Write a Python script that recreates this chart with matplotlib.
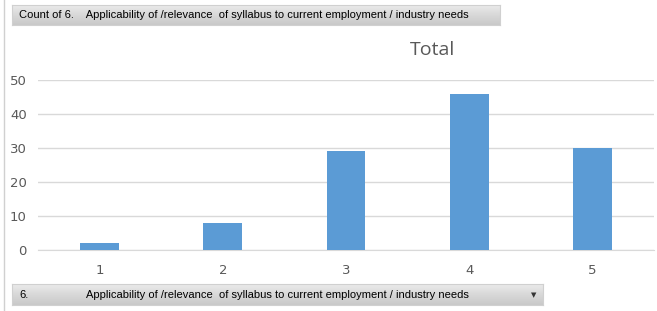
import numpy as np
import matplotlib.pyplot as plt
from matplotlib.lines import Line2D
from matplotlib.colors import LinearSegmentedColormap

categories = ["1", "2", "3", "4", "5"]
counts = [2, 8, 29, 46, 30]
header_text = "Count of 6.    Applicability of /relevance  of syllabus to current employment / industry needs"
field_label = "6."
field_text = "Applicability of /relevance  of syllabus to current employment / industry needs"

W, H = 657, 311
fig = plt.figure(figsize=(W / 100, H / 100), dpi=100)
fig.patch.set_facecolor("white")

# plot area (pixel coordinates converted to figure fractions)
left, right, top, bottom = 38, 654, 80, 250
ax = fig.add_axes([left / W, 1 - bottom / H, (right - left) / W, (bottom - top) / H])
x = range(len(categories))
ax.bar(x, counts, width=0.315, color="#5B9BD5", zorder=3)
ax.set_xlim(-0.5, len(categories) - 0.5)
ax.set_ylim(0, 50)
ax.set_yticks(range(0, 51, 10))
ax.set_xticks(list(x))
ax.set_xticklabels(categories)
ax.yaxis.grid(True, color="#D9D9D9", linewidth=1)
for s in ["top", "right", "left"]:
    ax.spines[s].set_visible(False)
ax.spines["bottom"].set_color("#D9D9D9")
ax.tick_params(length=0, labelsize=9.5, labelcolor="#595959", pad=10)
ax.tick_params(axis="y", pad=8)
ax.set_facecolor("white")

fig.text(432 / W, 1 - 50 / H, "Total", fontsize=14, color="#595959",
         ha="center", va="center", family="Open Sans")

# left border of the pivot sheet
fig.add_artist(Line2D([4 / W, 4 / W], [0, 1], color="#D0D0D0", linewidth=1))

# field header buttons with a light vertical gradient
grey_cmap = LinearSegmentedColormap.from_list("btn", ["#C9C9C9", "#D8D8D8", "#EBEBEB"])
grad = np.linspace(0, 1, 32).reshape(-1, 1)

def button(x0, y0, x1, y1):
    bax = fig.add_axes([x0 / W, 1 - y1 / H, (x1 - x0) / W, (y1 - y0) / H])
    bax.imshow(grad, aspect="auto", cmap=grey_cmap, origin="lower",
               extent=[0, 1, 0, 1])
    bax.set_xticks([])
    bax.set_yticks([])
    for s in bax.spines.values():
        s.set_color("#D0D0D0")
        s.set_linewidth(0.8)
    return bax

button(12, 5, 500, 25)
fig.text(19 / W, 1 - 15 / H, header_text, fontsize=8, color="black",
         ha="left", va="center", family="Liberation Sans")

button(12, 284, 543, 305)
fig.text(19 / W, 1 - 294.5 / H, field_label, fontsize=8, color="black",
         ha="left", va="center", family="Liberation Sans")
fig.text(86 / W, 1 - 294.5 / H, field_text, fontsize=8, color="black",
         ha="left", va="center", family="Liberation Sans")
fig.text(534 / W, 1 - 295 / H, "\u25BC", fontsize=5, color="#333333",
         ha="center", va="center")

fig.savefig("out.png", dpi=100)
